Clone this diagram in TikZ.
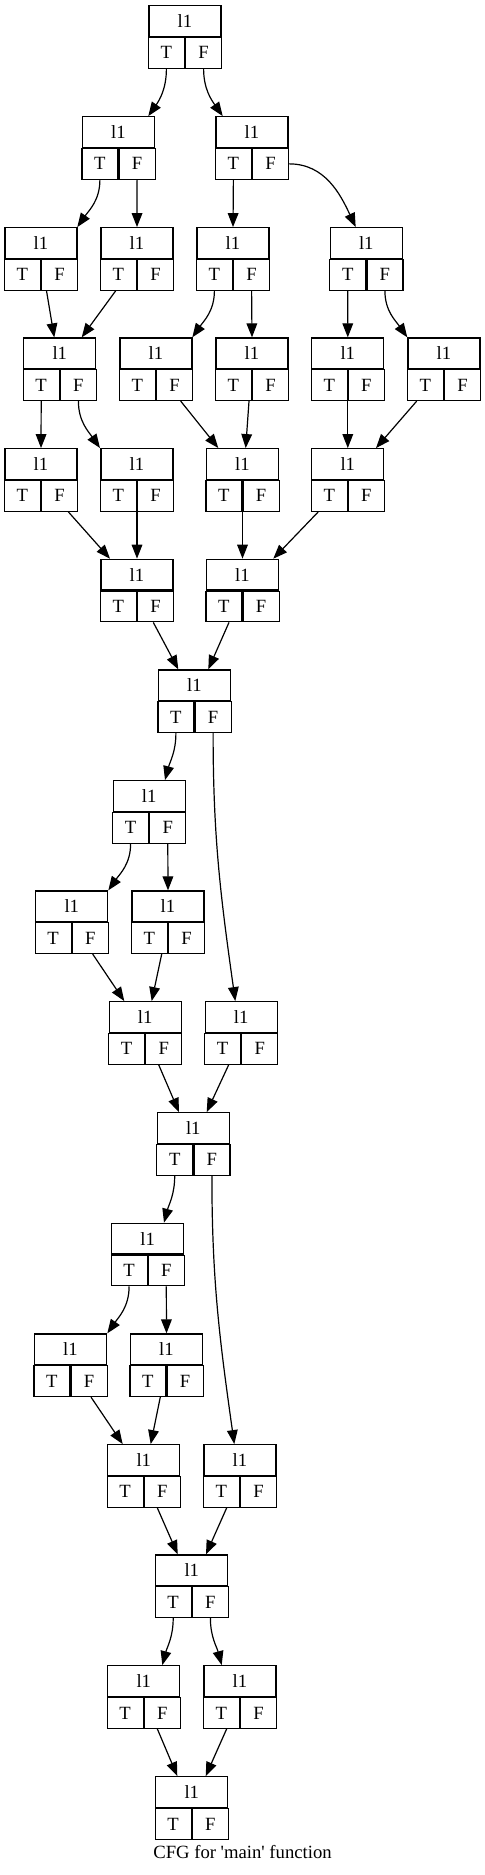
\documentclass[tikz,border=0pt]{standalone}
\usepackage{fontspec}
\setmainfont{Liberation Serif}
\usepackage{tikz}
\usetikzlibrary{calc}
\usetikzlibrary{arrows, arrows.meta}

\tikzset{
	blk/.style={draw, line width=0.9pt, minimum width=54pt, minimum height=23pt,
		inner sep=0pt, font=\fontsize{14}{16}\selectfont},
	half/.style={blk, minimum width=27pt},
	flow/.style={line width=0.9pt, -{Triangle[length=10.5pt, width=8pt]}}
}

\begin{document}
\begin{tikzpicture}[x=0.75pt, y=0.75pt]
	\useasboundingbox (0,0) rectangle (485,-1875);
	% blocks: name / centre x / top y
	\foreach \nm/\cx/\ty in {r1/185/5.7,
		r2a/118.5/116.7, r2b/252/116.7,
		r3a/41/227.7, r3b/137/227.7, r3c/233/227.7, r3d/366.3/227.7,
		r4a/59.8/338, r4b/156/338, r4c/252/338, r4d/347.8/338, r4e/444/338,
		r5a/41/448.7, r5b/137/448.7, r5c/242.5/448.7, r5d/347.8/448.7,
		r6a/137/559.3, r6b/242.5/559.3,
		r7/194.5/670, r8/149.2/780.7,
		r9a/71.8/891, r9b/168/891,
		r10a/145.2/1001.7, r10b/241.2/1001.7,
		r11/193.3/1112.7, r12/147.7/1223.3,
		r13a/70.5/1334, r13b/166.5/1334,
		r14a/143.8/1444.7, r14b/240/1444.7,
		r15/191.8/1555,
		r16a/143.8/1665.7, r16b/240/1665.7,
		r17/191.8/1776.7}{
		\node[blk] (\nm) at (\cx,-\ty-15.3) {l1};
		\node[half, anchor=north east] (\nm-t) at (\nm.south) {T};
		\node[half, anchor=north west] (\nm-f) at (\nm.south) {F};
	}

	% first split
	\draw [flow] (r1-t.south) to[out=-90, in=55] ($(r2a.north)+(29.8,0)$);
	\draw [flow] (r1-f.south) to[out=-90, in=125] ($(r2b.north)+(-29.3,0)$);
	\draw [flow] (r2a-t.south) to[out=-90, in=55] ($(r3a.north)+(36.3,0)$);
	\draw [flow] (r2a-f.south) -- (r3b.north);
	\draw [flow] (r2b-t.south) -- (r3c.north);
	\draw [flow] (r2b-f.east) to[out=0, in=115] ($(r3d.north)+(-10.6,0)$);
	\draw [flow]
		($(r3a-t.south east)+(5.5,0)$) -- ($(r4a.north)+(-5.5,0)$);
	\draw [flow]
		($(r3b-t.south east)+(-21.3,0)$) -- ($(r4a.north)+(21.9,0)$);
	\draw [flow] (r3c-t.south) to[out=-90, in=55] ($(r4b.north)+(36.3,0)$);
	\draw [flow] (r3c-f.south) -- (r4c.north);
	\draw [flow] (r3d-t.south) -- (r4d.north);
	\draw [flow] (r3d-f.south) to[out=-90, in=125] ($(r4e.north)+(-36.7,0)$);
	\draw [flow] (r4a-t.south) -- (r5a.north);
	\draw [flow] (r4a-f.south) to[out=-90, in=125] ($(r5b.north)+(-37,0)$);
	\draw [flow]
		($(r4b-t.south east)+(24.7,0)$) -- ($(r5c.north)+(-24.2,0)$);
	\draw [flow]
		($(r4c-t.south east)+(-3,0)$) -- ($(r5c.north)+(3.2,0)$);
	\draw [flow] (r4d-t.south east) -- (r5d.north);
	\draw [flow]
		($(r4e-t.south east)+(-27.3,0)$) -- ($(r5d.north)+(28.2,0)$);
	\draw [flow]
		($(r5a-t.south east)+(27.3,0)$) -- ($(r6a.north)+(-27,0)$);
	\draw [flow] (r5b-t.south east) -- (r6a.north);
	\draw [flow] (r5c-t.south east) -- (r6b.north);
	\draw [flow]
		($(r5d-t.south east)+(-29.5,0)$) -- ($(r6b.north)+(30.8,0)$);
	\draw [flow]
		($(r6a-t.south east)+(16.3,0)$) -- ($(r7.north)+(-16.2,0)$);
	\draw [flow]
		($(r6b-t.south east)+(-13.5,0)$) -- ($(r7.north)+(13.8,0)$);

	% second split
	\draw [flow] (r7-t.south) to[out=-90, in=75] ($(r8.north)+(15.8,0)$);
	\draw [flow] (r7-f.south) to[out=-90, in=98] ($(r10b.north)+(-5.9,0)$);
	\draw [flow] (r8-t.south) to[out=-90, in=55] ($(r9a.north)+(36.5,0)$);
	\draw [flow] (r8-f.south) -- (r9b.north);
	\draw [flow]
		($(r9a-t.south east)+(20.9,0)$) -- ($(r10a.north)+(-20.9,0)$);
	\draw [flow]
		($(r9b-t.south east)+(-6.3,0)$) -- ($(r10a.north)+(6.5,0)$);
	\draw [flow]
		($(r10a-t.south east)+(13.5,0)$) -- ($(r11.north)+(-14.3,0)$);
	\draw [flow]
		($(r10b-t.south east)+(-12.5,0)$) -- ($(r11.north)+(13.4,0)$);

	% third split
	\draw [flow] (r11-t.south) to[out=-90, in=75] ($(r12.north)+(16.3,0)$);
	\draw [flow] (r11-f.south) to[out=-90, in=98] ($(r14b.north)+(-5.7,0)$);
	\draw [flow] (r12-t.south) to[out=-90, in=55] ($(r13a.north)+(36.8,0)$);
	\draw [flow] (r12-f.south) -- (r13b.north);
	\draw [flow]
		($(r13a-t.south east)+(20.5,0)$) -- ($(r14a.north)+(-21.1,0)$);
	\draw [flow]
		($(r13b-t.south east)+(-6.2,0)$) -- ($(r14a.north)+(6.9,0)$);
	\draw [flow]
		($(r14a-t.south east)+(13.5,0)$) -- ($(r15.north)+(-14.1,0)$);
	\draw [flow]
		($(r14b-t.south east)+(-13.3,0)$) -- ($(r15.north)+(14.2,0)$);

	% last split
	\draw [flow] (r15-t.south) to[out=-90, in=75] ($(r16a.north)+(18.5,0)$);
	\draw [flow] (r15-f.south) to[out=-90, in=105] ($(r16b.north)+(-18.3,0)$);
	\draw [flow]
		($(r16a-t.south east)+(13.5,0)$) -- ($(r17.north)+(-14.5,0)$);
	\draw [flow]
		($(r16b-t.south east)+(-13.3,0)$) -- ($(r17.north)+(13.9,0)$);

	\node[anchor=base, inner sep=0pt, font=\fontsize{14}{16}\selectfont] (cap)
		at (242.5,-1858) {CFG for \textquotesingle main\textquotesingle{} function};
\end{tikzpicture}
\end{document}
